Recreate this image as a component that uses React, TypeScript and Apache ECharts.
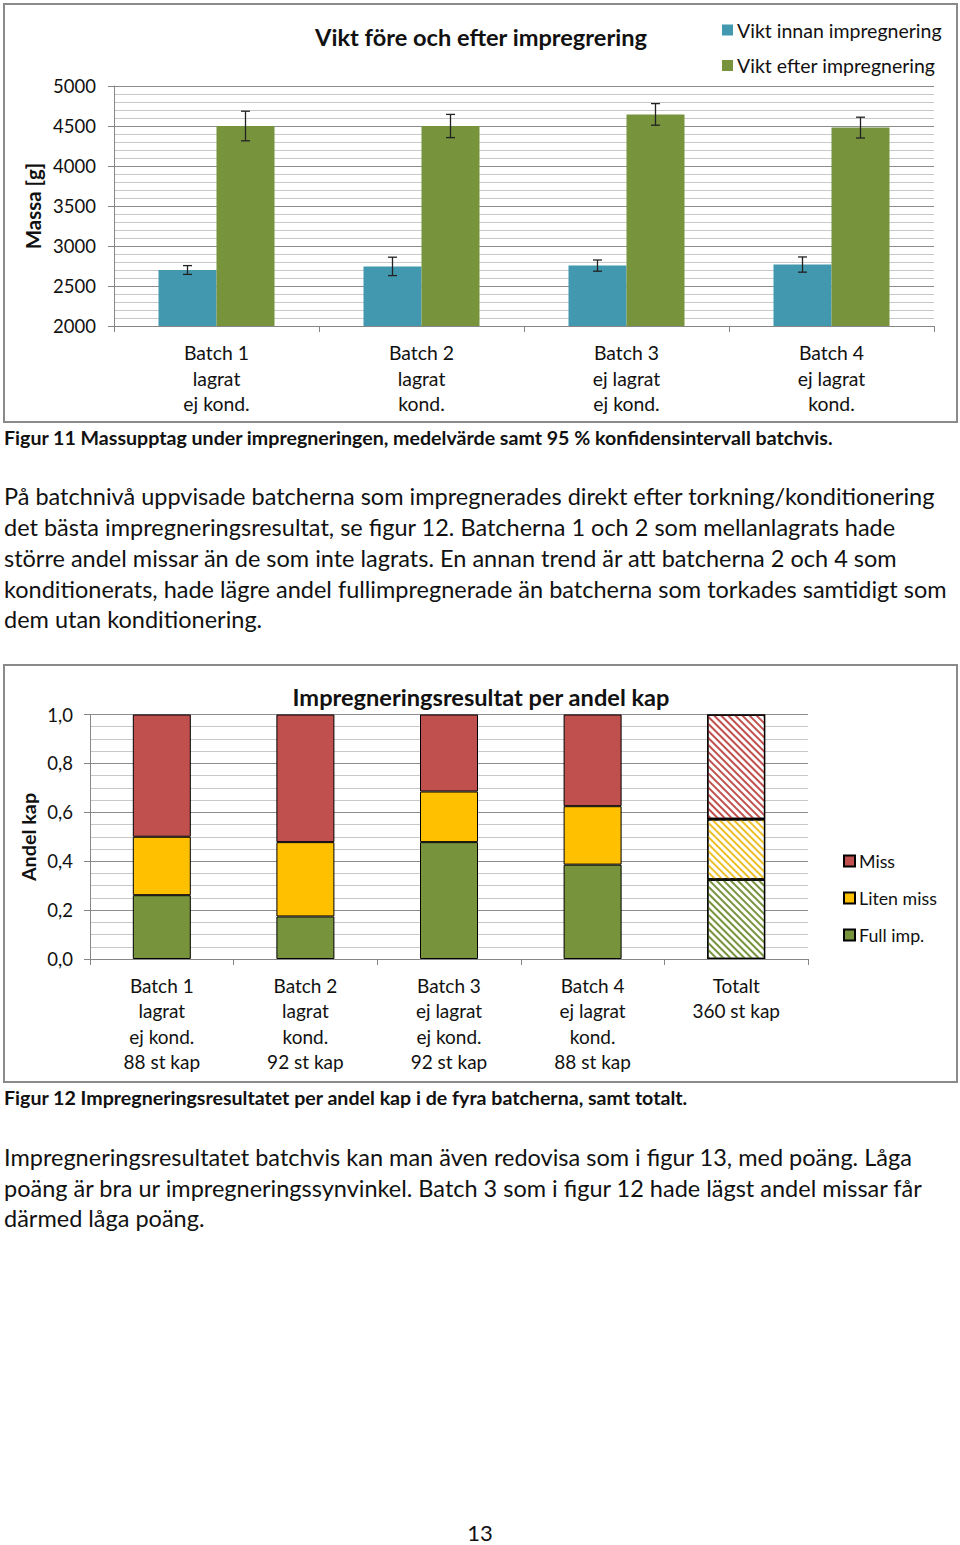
import React, { useEffect, useRef } from "react";
import * as echarts from "echarts";

// ---------- Data: chart 1 (Vikt före och efter) ----------
const batchCats1 = ["Batch 1\nlagrat\nej kond.", "Batch 2\nlagrat\nkond.", "Batch 3\nej lagrat\nej kond.", "Batch 4\nej lagrat\nkond."];
const viktInnan = [2700, 2745, 2755, 2768];
const viktInnanErr = [55, 115, 70, 95];
const viktEfter = [4500, 4500, 4645, 4480];
const viktEfterErr = [185, 145, 135, 130];
const yTicks1 = { min: 2000, max: 5000, interval: 500 };

// ---------- Data: chart 2 (Impregneringsresultat per andel kap) ----------
const batchCats2 = [
  "Batch 1\nlagrat\nej kond.\n88 st kap",
  "Batch 2\nlagrat\nkond.\n92 st kap",
  "Batch 3\nej lagrat\nej kond.\n92 st kap",
  "Batch 4\nej lagrat\nkond.\n88 st kap",
  "Totalt\n360 st kap",
];
const fullImp = [0.261, 0.174, 0.478, 0.386, 0.325];
const litenMiss = [0.239, 0.304, 0.207, 0.239, 0.247];
const miss = [0.5, 0.522, 0.315, 0.375, 0.428];
const yTicks2 = { min: 0, max: 1, interval: 0.2 };

// ---------- Texts ----------
const caption1 = "Figur 11 Massupptag under impregneringen, medelvärde samt 95 % konfidensintervall batchvis.";
const para1 = [
  "På batchnivå uppvisade batcherna som impregnerades direkt efter torkning/konditionering",
  "det bästa impregneringsresultat, se figur 12. Batcherna 1 och 2 som mellanlagrats hade",
  "större andel missar än de som inte lagrats. En annan trend är att batcherna 2 och 4 som",
  "konditionerats, hade lägre andel fullimpregnerade än batcherna som torkades samtidigt som",
  "dem utan konditionering.",
];
const caption2 = "Figur 12 Impregneringsresultatet per andel kap i de fyra batcherna, samt totalt.";
const para2 = [
  "Impregneringsresultatet batchvis kan man även redovisa som i figur 13, med poäng. Låga",
  "poäng är bra ur impregneringssynvinkel. Batch 3 som i figur 12 hade lägst andel missar får",
  "därmed låga poäng.",
];
const pageNo = "13";

const FONT = "Lato, 'Open Sans', sans-serif";
const BLUE = "#4198AF";
const GREEN = "#77933C";
const RED = "#C0504D";
const YELLOW = "#FFC000";
const TXT = "#111111";
const BAR_W = 58;

function errRender(sign: number) {
  return (params: any, api: any) => {
    const x = api.value(0);
    const lo = api.coord([x, api.value(1)]);
    const hi = api.coord([x, api.value(2)]);
    const cx = lo[0] + (sign * BAR_W) / 2;
    const st = { stroke: "#222", lineWidth: 1.3 };
    return {
      type: "group",
      children: [
        { type: "line", shape: { x1: cx, y1: hi[1], x2: cx, y2: lo[1] }, style: st },
        { type: "line", shape: { x1: cx - 4.5, y1: hi[1], x2: cx + 4.5, y2: hi[1] }, style: st },
        { type: "line", shape: { x1: cx - 4.5, y1: lo[1], x2: cx + 4.5, y2: lo[1] }, style: st },
      ],
    };
  };
}

function hatch(color: string) {
  return {
    color: "#ffffff",
    decal: {
      symbol: "rect",
      symbolSize: 1,
      color,
      dashArrayX: [1, 0],
      dashArrayY: [1.5, 2.5],
      rotation: Math.PI / 4,
    },
    borderColor: "#000",
    borderWidth: 1.3,
  };
}

export default function App() {
  const ref = useRef<HTMLDivElement>(null);
  useEffect(() => {
    if (!ref.current) return;
    const chart = echarts.init(ref.current, null, { renderer: "svg" });
    const axisGray = "#868686";
    const majorGrid = "#8c8c8c";
    const minorGrid = "#c8c8c8";

    const textEls: any[] = [];
    const addText = (t: string, x: number, y: number, size: number, bold = false, align = "left", rot = 0) => {
      textEls.push({
        type: "text",
        x,
        y,
        rotation: rot,
        style: {
          text: t,
          fontFamily: FONT,
          fontSize: size,
          fontWeight: bold ? "bold" : "normal",
          fill: TXT,
          textAlign: align,
          textVerticalAlign: "middle",
        },
      });
    };
    addText(caption1, 4, 437, 19.6, true);
    para1.forEach((l, i) => addText(l, 4, [496, 527, 558, 589, 619][i], 23.5));
    addText(caption2, 4, 1097, 19.6, true);
    para2.forEach((l, i) => addText(l, 4, [1157, 1188, 1218][i], 23.5));
    addText(pageNo, 480, 1532, 22, false, "center");
    addText("Massa [g]", 33, 206, 20.5, true, "center", Math.PI / 2);
    addText("Andel kap", 28, 837, 19.8, true, "center", Math.PI / 2);

    const option: any = {
      animation: false,
      backgroundColor: "#ffffff",
      textStyle: { fontFamily: FONT },
      title: [
        {
          text: "Vikt före och efter impregrering",
          left: 481,
          top: 37,
          textAlign: "center",
          textVerticalAlign: "middle",
          textStyle: { fontFamily: FONT, fontSize: 23.6, fontWeight: "bold", color: TXT },
          padding: 0,
        },
        {
          text: "Impregneringsresultat per andel kap",
          left: 481,
          top: 697,
          textAlign: "center",
          textVerticalAlign: "middle",
          textStyle: { fontFamily: FONT, fontSize: 23.6, fontWeight: "bold", color: TXT },
          padding: 0,
        },
      ],
      legend: [
        {
          data: ["Vikt innan impregnering", "Vikt efter impregnering"],
          orient: "vertical",
          left: 722,
          top: 20,
          itemWidth: 11,
          itemHeight: 11,
          itemGap: 15.5,
          icon: "rect",
          padding: 0,
          textStyle: { fontFamily: FONT, fontSize: 19.5, color: TXT, padding: [0, 0, 0, -1] },
        },
        {
          data: ["Miss", "Liten miss", "Full imp."],
          orient: "vertical",
          left: 843,
          top: 852,
          itemWidth: 11,
          itemHeight: 11,
          itemGap: 19,
          icon: "rect",
          padding: 0,
          textStyle: { fontFamily: FONT, fontSize: 17.8, color: TXT, padding: [0, 0, 0, -1] },
        },
      ],
      grid: [
        { left: 114, top: 86, width: 820, height: 240 },
        { left: 90, top: 714.5, width: 718, height: 244.5 },
      ],
      xAxis: [
        {
          gridIndex: 0,
          type: "category",
          data: batchCats1,
          axisLine: { lineStyle: { color: axisGray } },
          axisTick: { show: true, length: 6, lineStyle: { color: axisGray } },
          axisLabel: { fontFamily: FONT, fontSize: 19.4, color: TXT, lineHeight: 25.5, margin: 14 },
        },
        {
          gridIndex: 1,
          type: "category",
          data: batchCats2,
          axisLine: { lineStyle: { color: axisGray } },
          axisTick: { show: true, length: 6, lineStyle: { color: axisGray } },
          axisLabel: { fontFamily: FONT, fontSize: 19, color: TXT, lineHeight: 25.3, margin: 14 },
        },
      ],
      yAxis: [
        {
          gridIndex: 0,
          type: "value",
          min: yTicks1.min,
          max: yTicks1.max,
          interval: yTicks1.interval,
          axisLine: { show: true, lineStyle: { color: axisGray } },
          axisTick: { show: true, length: 6, lineStyle: { color: axisGray } },
          axisLabel: { fontFamily: FONT, fontSize: 18.5, color: TXT, margin: 18, formatter: (v: number) => String(v) },
          splitLine: { show: true, lineStyle: { color: majorGrid, width: 1 } },
          minorSplitLine: { show: true, lineStyle: { color: minorGrid, width: 1 } },
          minorTick: { show: false, splitNumber: 5 },
        },
        {
          gridIndex: 1,
          type: "value",
          min: yTicks2.min,
          max: yTicks2.max,
          interval: yTicks2.interval,
          axisLine: { show: true, lineStyle: { color: axisGray } },
          axisTick: { show: true, length: 6, lineStyle: { color: axisGray } },
          axisLabel: {
            fontFamily: FONT,
            fontSize: 18.5,
            color: TXT,
            margin: 17,
            formatter: (v: number) => v.toFixed(1).replace(".", ","),
          },
          splitLine: { show: true, lineStyle: { color: majorGrid, width: 1 } },
          minorSplitLine: { show: true, lineStyle: { color: minorGrid, width: 1 } },
          minorTick: { show: false, splitNumber: 4 },
        },
      ],
      series: [
        {
          name: "Vikt innan impregnering",
          type: "bar",
          xAxisIndex: 0,
          yAxisIndex: 0,
          data: viktInnan,
          barWidth: BAR_W,
          barGap: "0%",
          itemStyle: { color: BLUE },
        },
        {
          name: "Vikt efter impregnering",
          type: "bar",
          xAxisIndex: 0,
          yAxisIndex: 0,
          data: viktEfter,
          barWidth: BAR_W,
          barGap: "0%",
          itemStyle: { color: GREEN },
        },
        {
          type: "custom",
          xAxisIndex: 0,
          yAxisIndex: 0,
          renderItem: errRender(-1),
          data: viktInnan.map((v, i) => [i, v - viktInnanErr[i], v + viktInnanErr[i]]),
          z: 5,
          silent: true,
        },
        {
          type: "custom",
          xAxisIndex: 0,
          yAxisIndex: 0,
          renderItem: errRender(1),
          data: viktEfter.map((v, i) => [i, v - viktEfterErr[i], v + viktEfterErr[i]]),
          z: 5,
          silent: true,
        },
        {
          name: "Full imp.",
          type: "bar",
          stack: "k",
          xAxisIndex: 1,
          yAxisIndex: 1,
          barWidth: BAR_W,
          itemStyle: { color: GREEN, borderColor: "#000", borderWidth: 1 },
          data: fullImp.map((v, i) => (i === 4 ? { value: v, itemStyle: hatch(GREEN) } : v)),
        },
        {
          name: "Liten miss",
          type: "bar",
          stack: "k",
          xAxisIndex: 1,
          yAxisIndex: 1,
          barWidth: BAR_W,
          itemStyle: { color: YELLOW, borderColor: "#000", borderWidth: 1 },
          data: litenMiss.map((v, i) => (i === 4 ? { value: v, itemStyle: hatch("#EDC02A") } : v)),
        },
        {
          name: "Miss",
          type: "bar",
          stack: "k",
          xAxisIndex: 1,
          yAxisIndex: 1,
          barWidth: BAR_W,
          itemStyle: { color: RED, borderColor: "#000", borderWidth: 1 },
          data: miss.map((v, i) => (i === 4 ? { value: v, itemStyle: hatch(RED) } : v)),
        },
      ],
      graphic: {
        elements: [
          {
            type: "rect",
            shape: { x: 4, y: 4, width: 953, height: 418 },
            style: { fill: "none", stroke: "#8a8a8a", lineWidth: 2 },
            silent: true,
          },
          {
            type: "rect",
            shape: { x: 4, y: 665, width: 953, height: 417 },
            style: { fill: "none", stroke: "#8a8a8a", lineWidth: 2 },
            silent: true,
          },
          ...textEls,
        ],
      },
    };
    chart.setOption(option);
    return () => chart.dispose();
  }, []);
  return (
    <div
      ref={ref}
      style={{ position: "absolute", left: 0, top: 0, width: 960, height: 1545, background: "#fff" }}
    />
  );
}
